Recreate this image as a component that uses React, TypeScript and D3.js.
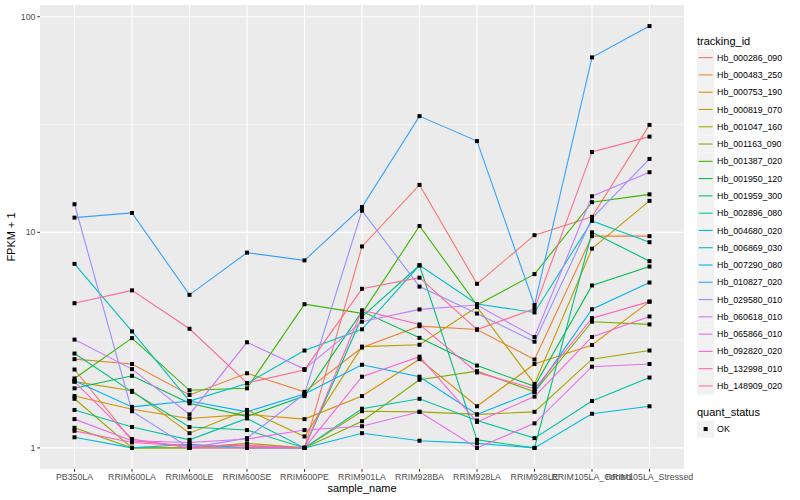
import React from 'react';
import * as d3 from 'd3';

// x categories
const samples = [
  'PB350LA', 'RRIM600LA', 'RRIM600LE', 'RRIM600SE', 'RRIM600PE', 'RRIM901LA',
  'RRIM928BA', 'RRIM928LA', 'RRIM928LE', 'RRIM105LA_Control', 'RRIM105LA_Stressed',
];

const trackingIds = [
  'Hb_000286_090', 'Hb_000483_250', 'Hb_000753_190', 'Hb_000819_070', 'Hb_001047_160',
  'Hb_001163_090', 'Hb_001387_020', 'Hb_001950_120', 'Hb_001959_300', 'Hb_002896_080',
  'Hb_004680_020', 'Hb_006869_030', 'Hb_007290_080', 'Hb_010827_020', 'Hb_029580_010',
  'Hb_060618_010', 'Hb_065866_010', 'Hb_092820_020', 'Hb_132998_010', 'Hb_148909_020',
];

// FPKM + 1, one value per sample
const hb000286_090 = [2.31, 1.08, 1.02, 1.02, 1.0, 8.6, 16.6, 5.77, 9.7, 11.8, 31.5];
const hb000483_250 = [2.58, 2.45, 1.76, 2.22, 1.82, 2.92, 3.67, 3.54, 2.57, 9.6, 9.6];
const hb000753_190 = [1.74, 1.51, 1.37, 1.43, 1.36, 1.74, 2.58, 1.56, 2.45, 3.0, 4.77];
const hb000819_070 = [2.03, 1.84, 1.17, 1.5, 1.13, 2.95, 3.01, 4.5, 1.98, 8.4, 14.0];
const hb001047_160 = [1.69, 1.0, 1.0, 1.05, 1.0, 1.48, 1.47, 1.43, 1.47, 2.58, 2.83];
const hb001163_090 = [1.24, 1.0, 1.0, 1.0, 1.0, 1.33, 2.07, 2.27, 1.82, 3.85, 3.74];
const hb001387_020 = [2.1, 3.23, 1.85, 1.89, 4.64, 4.21, 10.7, 4.6, 6.4, 13.8, 15.0];
const hb001950_120 = [1.89, 2.16, 1.61, 1.4, 1.74, 4.3, 3.24, 2.41, 1.93, 5.67, 6.94];
const hb001959_300 = [2.74, 1.82, 1.25, 1.21, 1.0, 4.05, 7.03, 1.09, 1.0, 10.0, 7.35];
const hb002896_080 = [1.5, 1.25, 1.09, 1.37, 1.0, 1.52, 1.69, 1.34, 1.11, 1.65, 2.12];
const hb004680_020 = [7.14, 3.47, 1.65, 1.99, 2.83, 3.55, 7.03, 4.65, 4.25, 11.3, 9.0];
const hb006869_030 = [1.12, 1.0, 1.04, 1.0, 1.0, 1.17, 1.08, 1.05, 1.0, 1.44, 1.56];
const hb007290_080 = [2.05, 1.55, 1.65, 1.47, 1.78, 2.43, 2.14, 1.43, 1.82, 4.4, 5.85];
const hb010827_020 = [11.7, 12.3, 5.13, 8.05, 7.41, 13.1, 34.6, 26.5, 4.6, 64.8, 90.5];
const hb029580_010 = [13.5, 1.48, 1.0, 1.11, 1.78, 12.6, 5.6, 4.2, 3.11, 11.6, 21.9];
const hb060618_010 = [3.18, 2.32, 1.43, 3.09, 2.32, 3.85, 4.39, 4.6, 3.27, 14.7, 19.0];
const hb065866_010 = [1.36, 1.08, 1.06, 1.1, 1.21, 1.26, 1.47, 1.0, 1.3, 2.38, 2.45];
const hb092820_020 = [2.03, 1.1, 1.0, 1.0, 1.0, 2.14, 2.65, 1.32, 1.73, 3.27, 4.07];
const hb132998_010 = [1.2, 1.06, 1.02, 1.03, 1.0, 4.35, 3.74, 2.24, 1.88, 4.0, 4.77];
const hb148909_020 = [4.69, 5.38, 3.57, 2.0, 2.3, 5.47, 6.16, 3.54, 4.42, 23.6, 27.8];

const seriesValues = [
  hb000286_090, hb000483_250, hb000753_190, hb000819_070, hb001047_160,
  hb001163_090, hb001387_020, hb001950_120, hb001959_300, hb002896_080,
  hb004680_020, hb006869_030, hb007290_080, hb010827_020, hb029580_010,
  hb060618_010, hb065866_010, hb092820_020, hb132998_010, hb148909_020,
];

const yTicks = [1, 10, 100];

// ggplot hue palette, 20 levels
const palette = [
  '#F8766D', '#EA8331', '#D89000', '#C09B00', '#A3A500', '#7CAE00', '#39B600',
  '#00BB4E', '#00BF7D', '#00C1A3', '#00BFC4', '#00BAE0', '#00B0F6', '#35A2FF',
  '#9590FF', '#C77CFF', '#E76BF3', '#FA62DB', '#FF62BC', '#FF6C91',
];

const W = 800;
const H = 500;
const panel = { left: 40, right: 684, top: 5, bottom: 469 };
const font = '"Liberation Sans", Arial, Helvetica, sans-serif';

const App: React.FC = () => {
  const x = d3
    .scalePoint<string>()
    .domain(samples)
    .range([panel.left, panel.right])
    .padding(0.6);

  const all = seriesValues.flat();
  const lo = Math.log10(d3.min(all) as number);
  const hi = Math.log10(d3.max(all) as number);
  const pad = (hi - lo) * 0.05;
  const y = d3
    .scaleLog()
    .domain([Math.pow(10, lo - pad), Math.pow(10, hi + pad)])
    .range([panel.bottom, panel.top]);

  const minorTicks = [Math.pow(10, 0.5), Math.pow(10, 1.5)];

  const lineGen = d3
    .line<number>()
    .x((_, i) => x(samples[i]) as number)
    .y((d) => y(d));

  const keyH = 17.28;
  const legendX = 697;
  const firstKeyTop = 49;

  return (
    <svg
      width={W}
      height={H}
      style={{ position: 'absolute', left: 0, top: 0, fontFamily: font }}
    >
      <rect x={0} y={0} width={W} height={H} fill="white" />
      {/* panel */}
      <rect
        x={panel.left}
        y={panel.top}
        width={panel.right - panel.left}
        height={panel.bottom - panel.top}
        fill="#EBEBEB"
      />
      {minorTicks.map((t) => (
        <line
          key={'mn' + t}
          x1={panel.left}
          x2={panel.right}
          y1={y(t)}
          y2={y(t)}
          stroke="white"
          strokeWidth={0.55}
        />
      ))}
      {yTicks.map((t) => (
        <line
          key={'mj' + t}
          x1={panel.left}
          x2={panel.right}
          y1={y(t)}
          y2={y(t)}
          stroke="white"
          strokeWidth={1.1}
        />
      ))}
      {samples.map((s) => (
        <line
          key={'vx' + s}
          x1={x(s)}
          x2={x(s)}
          y1={panel.top}
          y2={panel.bottom}
          stroke="white"
          strokeWidth={1.1}
        />
      ))}

      {/* lines */}
      {seriesValues.map((vals, i) => (
        <path
          key={'l' + i}
          d={lineGen(vals) as string}
          fill="none"
          stroke={palette[i]}
          strokeWidth={1.1}
        />
      ))}
      {/* points */}
      {seriesValues.map((vals, i) =>
        vals.map((v, j) => (
          <rect
            key={'p' + i + '-' + j}
            x={(x(samples[j]) as number) - 2}
            y={y(v) - 2}
            width={4}
            height={4}
            fill="black"
          />
        )),
      )}

      {/* y axis */}
      {yTicks.map((t) => (
        <g key={'yt' + t}>
          <line
            x1={panel.left - 2.75}
            x2={panel.left}
            y1={y(t)}
            y2={y(t)}
            stroke="#333333"
            strokeWidth={1}
          />
          <text
            x={panel.left - 4.5}
            y={y(t)}
            dy="0.35em"
            textAnchor="end"
            fontSize={8.8}
            fill="#4D4D4D"
          >
            {t}
          </text>
        </g>
      ))}
      {/* x axis */}
      {samples.map((s) => (
        <g key={'xt' + s}>
          <line
            x1={x(s)}
            x2={x(s)}
            y1={panel.bottom}
            y2={panel.bottom + 2.75}
            stroke="#333333"
            strokeWidth={1}
          />
          <text
            x={x(s)}
            y={panel.bottom + 11}
            textAnchor="middle"
            fontSize={8.8}
            fill="#4D4D4D"
          >
            {s}
          </text>
        </g>
      ))}
      <text
        x={(panel.left + panel.right) / 2}
        y={492}
        textAnchor="middle"
        fontSize={11}
        fill="black"
      >
        sample_name
      </text>
      <text
        transform={`translate(15, ${(panel.top + panel.bottom) / 2}) rotate(-90)`}
        textAnchor="middle"
        fontSize={11}
        fill="black"
      >
        FPKM + 1
      </text>

      {/* legend: tracking_id */}
      <text x={legendX} y={44.5} fontSize={11} fill="black">
        tracking_id
      </text>
      {trackingIds.map((id, i) => {
        const top = firstKeyTop + i * keyH;
        return (
          <g key={'lg' + id}>
            <rect x={legendX} y={top} width={keyH} height={keyH} fill="#F2F2F2" />
            <line
              x1={legendX + 1.7}
              x2={legendX + keyH - 1.7}
              y1={top + keyH / 2}
              y2={top + keyH / 2}
              stroke={palette[i]}
              strokeWidth={1.1}
            />
            <text
              x={legendX + keyH + 2.8}
              y={top + keyH / 2}
              dy="0.35em"
              fontSize={8.8}
              fill="black"
            >
              {id}
            </text>
          </g>
        );
      })}

      {/* legend: quant_status */}
      <text x={legendX} y={416} fontSize={11} fill="black">
        quant_status
      </text>
      <rect x={legendX} y={420.4} width={keyH} height={keyH} fill="#F2F2F2" />
      <rect
        x={legendX + keyH / 2 - 2}
        y={420.4 + keyH / 2 - 2}
        width={4}
        height={4}
        fill="black"
      />
      <text
        x={legendX + keyH + 2.8}
        y={420.4 + keyH / 2}
        dy="0.35em"
        fontSize={8.8}
        fill="black"
      >
        OK
      </text>
    </svg>
  );
};

export default App;
